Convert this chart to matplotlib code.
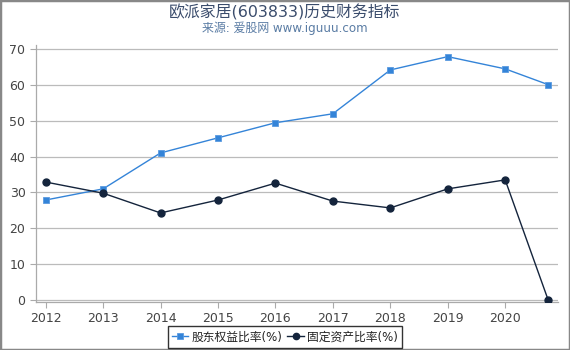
import matplotlib
matplotlib.use("Agg")
import matplotlib.pyplot as plt
from matplotlib.patches import Rectangle

plt.rcParams['font.family'] = ['DejaVu Sans', 'Noto Sans CJK SC']

years = [2012, 2013, 2014, 2015, 2016, 2017, 2018, 2019, 2020, 2020.75]
tick_years = [2012, 2013, 2014, 2015, 2016, 2017, 2018, 2019, 2020]
equity_ratio = [27.9, 31.0, 41.0, 45.2, 49.4, 51.9, 64.1, 67.8, 64.4, 60.0]
fixed_asset_ratio = [32.9, 29.8, 24.3, 27.9, 32.6, 27.6, 25.7, 31.0, 33.5, 0.0]
series_names = ['股东权益比率(%)', '固定资产比率(%)']
title = '欧派家居(603833)历史财务指标'
subtitle = '来源: 爱股网 www.iguuu.com'

fig = plt.figure(figsize=(5.7, 3.5), dpi=100)
ax = fig.add_axes([0.063, 0.137, 0.916, 0.734])

blue = '#3484d8'
dark = '#14243c'
ax.plot(years, equity_ratio, color=blue, lw=1.0, marker='s', ms=5,
        mfc=blue, mec='#5a9ae0', mew=0.6, label=series_names[0], zorder=3)
ax.plot(years, fixed_asset_ratio, color=dark, lw=1.0, marker='o', ms=5,
        mfc=dark, mec=dark, label=series_names[1], zorder=3)

ax.set_xlim(2011.83, 2020.92)
ax.set_ylim(-0.5, 71)
ax.set_yticks(range(0, 71, 10))
ax.set_xticks(tick_years)
ax.set_xticklabels([str(y) for y in tick_years])
ax.grid(axis='y', color='#bbbbbb', lw=0.9)
ax.set_axisbelow(True)
for s in ['top', 'right']:
    ax.spines[s].set_visible(False)
for s in ['left', 'bottom']:
    ax.spines[s].set_color('#aaaaaa')
    ax.spines[s].set_linewidth(0.9)
ax.tick_params(axis='both', colors='#aaaaaa', labelcolor='#444444', labelsize=9, length=4, width=0.8)
ax.tick_params(axis='x', pad=3)

cx = 0.5
fig.text(cx, 0.965, title, ha='center', va='center', fontsize=11.4, color='#3a4c6c')
fig.text(cx, 0.918, subtitle, ha='center', va='center', fontsize=8.6, color='#5a7ca4')

leg = fig.legend(loc='center', bbox_to_anchor=(cx, 0.037), ncol=2, fontsize=8.5,
                 frameon=True, fancybox=False, edgecolor='black', handlelength=1.4,
                 handletextpad=0.3, columnspacing=0.4, borderpad=0.35, borderaxespad=0,
                 markerscale=0.9)
leg.get_frame().set_linewidth(1.0)
for t in leg.get_texts():
    t.set_color('#222222')

fig.patches.append(Rectangle((0, 0), 1, 1, transform=fig.transFigure, fill=False,
                             edgecolor='#888888', lw=2.5))

fig.savefig('out.png', dpi=100)
